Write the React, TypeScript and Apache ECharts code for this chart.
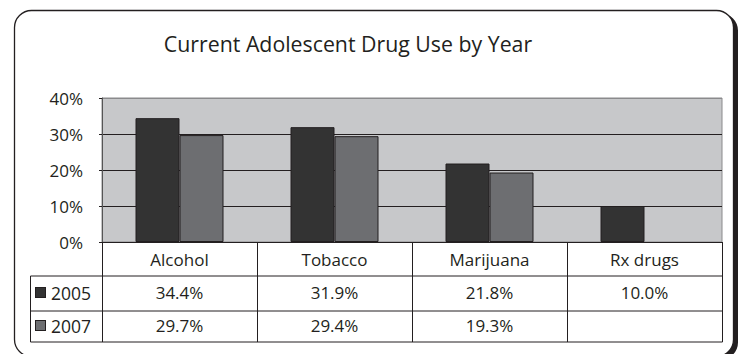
import React, { useEffect, useRef } from "react";
import * as echarts from "echarts";

const categories = ["Alcohol", "Tobacco", "Marijuana", "Rx drugs"];
const years = ["2005", "2007"];
const values2005: (number | null)[] = [34.4, 31.9, 21.8, 10.0];
const values2007: (number | null)[] = [29.7, 29.4, 19.3, null];
const yTicks = { min: 0, max: 40, interval: 10 };
const title = "Current Adolescent Drug Use by Year";

const colors = ["#333333", "#6d6e71"];
const FONT = "'Open Sans', 'Noto Sans', sans-serif";
const INK = "#231f20";

export default function App() {
  const ref = useRef<HTMLDivElement>(null);
  useEffect(() => {
    if (!ref.current) return;
    const chart = echarts.init(ref.current, undefined, { renderer: "svg" });
    const series = [values2005, values2007];

    const plotL = 102, plotR = 18, plotT = 98, plotB = 242;
    const tblL = 30.5, tblR = 722, row1 = 276, row2 = 311, row3 = 342;

    const scatterData: any[] = [];
    series.forEach((arr, yi) => {
      arr.forEach((v, ci) => {
        if (v != null) scatterData.push({ value: [ci, yi, v] });
      });
    });

    const hline = (y: number) => ({
      type: "line",
      z: 10,
      shape: { x1: tblL, y1: y, x2: tblR + 0.5, y2: y },
      style: { stroke: INK, lineWidth: 1 },
    });

    chart.setOption({
      animation: false,
      backgroundColor: "transparent",
      textStyle: { fontFamily: FONT },
      graphic: [
        {
          type: "rect",
          z: -10,
          shape: { x: 18, y: 13.5, width: 720, height: 346, r: 17 },
          style: { fill: INK },
        },
        {
          type: "rect",
          z: -9,
          shape: { x: 14.5, y: 10.5, width: 719, height: 346, r: 17 },
          style: { fill: "#ffffff", stroke: INK, lineWidth: 1.3 },
        },
        {
          type: "text",
          z: 10,
          x: 348,
          y: 43,
          style: {
            text: title,
            textAlign: "center",
            textVerticalAlign: "middle",
            font: `21.3px ${FONT}`,
            fill: INK,
          },
        },
        hline(row1),
        hline(row2),
        hline(row3),
        {
          type: "line",
          z: 10,
          shape: { x1: tblL, y1: row1, x2: tblL, y2: row3 },
          style: { stroke: INK, lineWidth: 1 },
        },
      ],
      grid: [
        {
          left: plotL,
          right: plotR,
          top: plotT,
          height: plotB - plotT,
          show: true,
          backgroundColor: "#c7c8ca",
          borderColor: "#8a8a8c",
          borderWidth: 1,
        },
        {
          left: plotL,
          right: plotR,
          top: row1,
          height: row3 - row1,
        },
      ],
      xAxis: [
        {
          type: "category",
          gridIndex: 0,
          data: categories,
          axisLine: { lineStyle: { color: INK, width: 1 } },
          axisTick: { show: true, length: row3 - plotB, lineStyle: { color: INK, width: 1 } },
          axisLabel: { fontSize: 17, color: INK, margin: 9, fontFamily: FONT },
        },
        {
          type: "category",
          gridIndex: 1,
          data: categories,
          show: false,
        },
      ],
      yAxis: [
        {
          type: "value",
          gridIndex: 0,
          min: yTicks.min,
          max: yTicks.max,
          interval: yTicks.interval,
          axisLine: { show: true, lineStyle: { color: "#555", width: 1 } },
          axisTick: { show: true, length: 3, lineStyle: { color: INK } },
          axisLabel: { formatter: "{value}%", fontSize: 17, color: INK, margin: 19, fontFamily: FONT },
          splitLine: {
            show: true,
            lineStyle: { color: [INK, INK, INK, INK, "#8a8a8c"], width: 1 },
          },
        },
        {
          type: "category",
          gridIndex: 1,
          data: years,
          inverse: true,
          axisLine: { show: false },
          axisTick: { show: false },
          splitLine: { show: false },
          axisLabel: {
            align: "left",
            margin: plotL - 36,
            formatter: (v: string, i: number) => `{s${i}|}{t|${v}}`,
            rich: {
              s0: { width: 9, height: 9, backgroundColor: colors[0], borderColor: INK, borderWidth: 1 },
              s1: { width: 9, height: 9, backgroundColor: colors[1], borderColor: INK, borderWidth: 1 },
              t: { fontSize: 17.5, color: INK, padding: [0, 0, 0, 6], fontFamily: FONT },
            },
          },
        },
      ],
      series: [
        {
          name: years[0],
          type: "bar",
          xAxisIndex: 0,
          yAxisIndex: 0,
          data: values2005.map((v) => (v == null ? "-" : v)),
          barWidth: 44,
          barGap: "0%",
          itemStyle: { color: colors[0], borderColor: INK, borderWidth: 1 },
        },
        {
          name: years[1],
          type: "bar",
          xAxisIndex: 0,
          yAxisIndex: 0,
          data: values2007.map((v) => (v == null ? "-" : v)),
          barWidth: 44,
          barGap: "0%",
          itemStyle: { color: colors[1], borderColor: INK, borderWidth: 1 },
        },
        {
          type: "scatter",
          xAxisIndex: 1,
          yAxisIndex: 1,
          symbolSize: 1,
          itemStyle: { color: "rgba(0,0,0,0)" },
          data: scatterData,
          label: {
            show: true,
            position: "inside",
            fontSize: 17,
            color: INK,
            opacity: 1,
            textBorderWidth: 0,
            fontFamily: FONT,
            formatter: (p: any) => `${p.value[2].toFixed(1)}%`,
          },
        },
      ],
    });
    return () => chart.dispose();
  }, []);
  return (
    <div
      ref={ref}
      style={{ position: "fixed", left: 0, top: 0, width: 740, height: 354, background: "#fff" }}
    />
  );
}
